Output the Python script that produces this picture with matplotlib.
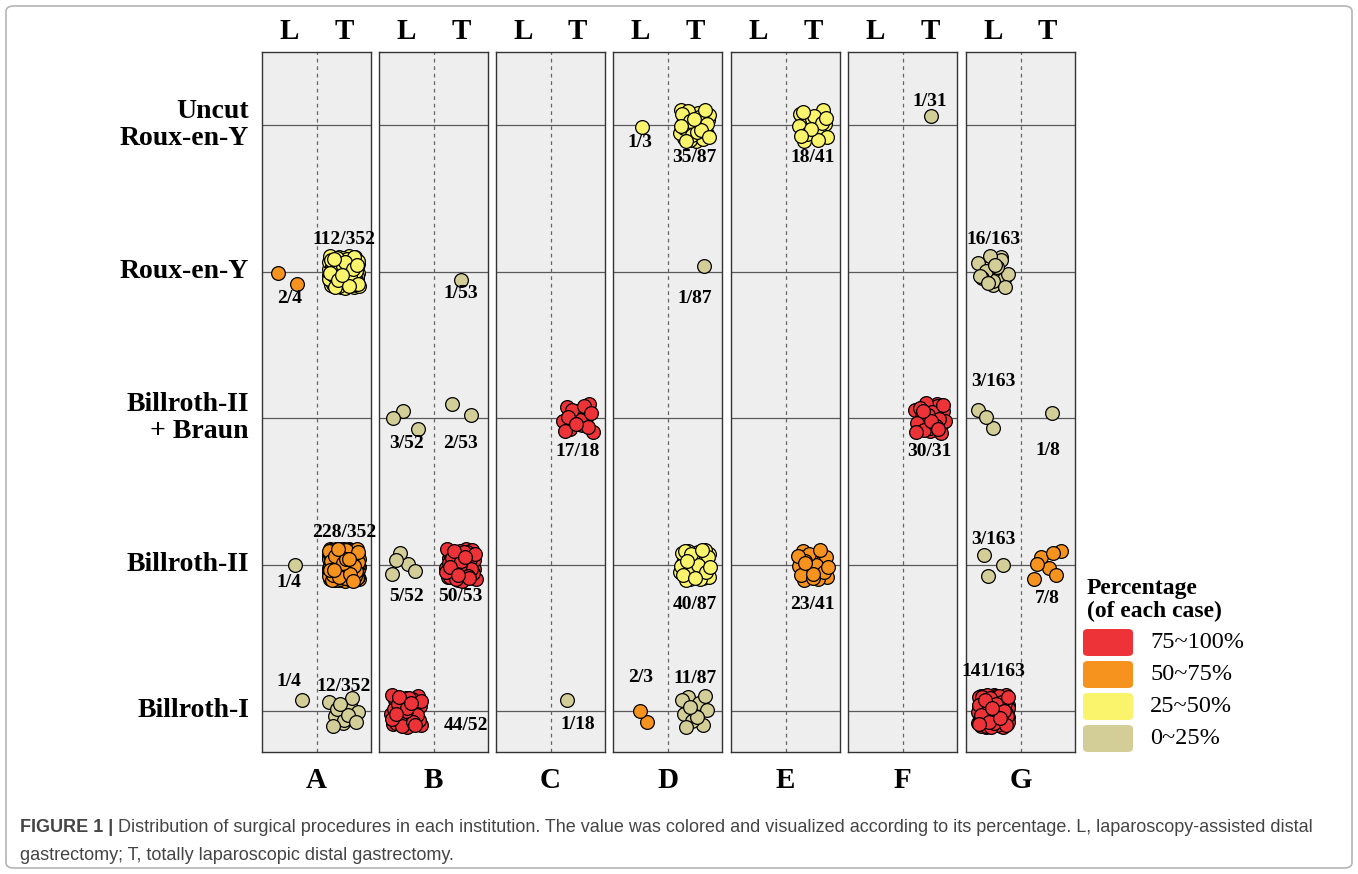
import numpy as np
import matplotlib.pyplot as plt
from matplotlib.patches import FancyBboxPatch
from matplotlib import transforms

plt.rcParams['font.family'] = ['Liberation Serif', 'DejaVu Serif']

# institutions and procedures
panels = ['A', 'B', 'C', 'D', 'E', 'F', 'G']
row_names = ['Billroth-I', 'Billroth-II', 'Billroth-II\n+ Braun', 'Roux-en-Y', 'Uncut\nRoux-en-Y']
total_L = [4, 52, 0, 3, 0, 0, 163]
total_T = [352, 53, 18, 87, 41, 31, 8]

# one entry per non-empty cell (row: 1 = Billroth-I ... 5 = Uncut Roux-en-Y)
cell_panel = ['A', 'A', 'A', 'A', 'A', 'A',
              'B', 'B', 'B', 'B', 'B', 'B',
              'C', 'C',
              'D', 'D', 'D', 'D', 'D', 'D',
              'E', 'E',
              'F', 'F',
              'G', 'G', 'G', 'G', 'G', 'G']
cell_side = ['L', 'T', 'L', 'T', 'L', 'T',
             'T', 'L', 'T', 'L', 'T', 'L',
             'T', 'T',
             'L', 'T', 'T', 'T', 'L', 'T',
             'T', 'T',
             'T', 'T',
             'L', 'L', 'T', 'L', 'T', 'L']
cell_row = [4, 4, 2, 2, 1, 1,
            4, 3, 3, 2, 2, 1,
            3, 1,
            5, 5, 4, 2, 1, 1,
            5, 2,
            5, 3,
            4, 3, 3, 2, 2, 1]
cell_count = [2, 112, 1, 228, 1, 12,
              1, 3, 2, 5, 50, 44,
              17, 1,
              1, 35, 1, 40, 2, 11,
              18, 23,
              1, 30,
              16, 3, 1, 3, 7, 141]
# colour band as drawn: 0 = 0~25%, 1 = 25~50%, 2 = 50~75%, 3 = 75~100%
cell_band = [2, 1, 0, 2, 0, 0,
             0, 0, 0, 0, 3, 3,
             3, 0,
             1, 1, 0, 1, 2, 0,
             1, 2,
             0, 3,
             0, 0, 0, 0, 2, 3]

band_colors = ['#D3CE98', '#FAF36C', '#F6921E', '#EE3338']
band_labels = ['0~25%', '25~50%', '50~75%', '75~100%']

# label placement (row units / column units)
label_dy = [-0.18, 0.22, -0.12, 0.22, 0.20, 0.17,
            -0.15, -0.17, -0.17, -0.22, -0.22, -0.10,
            -0.23, -0.09,
            -0.12, -0.22, -0.18, -0.27, 0.23, 0.22,
            -0.22, -0.27,
            0.16, -0.23,
            0.22, 0.25, -0.22, 0.17, -0.23, 0.27]
label_dx = [0] * len(cell_count)
label_dx[11] = 1.1


def halton(i, b):
    f, r = 1.0, 0.0
    while i > 0:
        f /= b
        r += f * (i % b)
        i //= b
    return r


W, H = 1358, 874
fig = plt.figure(figsize=(W / 100, H / 100), dpi=100)

# outer frame
fig.patches.append(FancyBboxPatch((6 / W, 6 / H), 1 - 12 / W, 1 - 12 / H,
                                  boxstyle='round,pad=0,rounding_size=0.006',
                                  transform=fig.transFigure, fill=False,
                                  edgecolor='#b5b5b5', linewidth=1.2))

lefts = [262, 379, 496, 613, 731, 848, 966]
axes = []
for k, p in enumerate(panels):
    ax = fig.add_axes([lefts[k] / W, 1 - 752 / H, 109 / W, 700 / H])
    ax.set_facecolor('#EEEEEE')
    ax.set_xlim(0.5, 2.5)
    ax.set_ylim(0.72, 5.5)
    for r in range(1, 6):
        ax.axhline(r, color='#5a5a5a', lw=0.9, zorder=1)
    ax.axvline(1.5, color='#666666', lw=0.9, ls=(0, (3, 3)), zorder=1)
    for s in ax.spines.values():
        s.set_color('#333333')
        s.set_linewidth(1.0)
    ax.set_yticks([])
    ax.set_xticks([1, 2])
    ax.set_xticklabels(['L', 'T'], fontsize=21, fontweight='bold')
    ax.tick_params(axis='x', top=True, labeltop=True, bottom=False,
                   labelbottom=False, length=0, pad=5)
    ax.text(0.5, -0.04, p, transform=ax.transAxes, ha='center', va='center',
            fontsize=21, fontweight='bold')
    axes.append(ax)

for c in range(len(cell_count)):
    k = panels.index(cell_panel[c])
    ax = axes[k]
    xc = 1 if cell_side[c] == 'L' else 2
    yc = cell_row[c]
    n = cell_count[c]
    idx = np.arange(n) + 3 + c * 5
    xs = xc + (np.array([halton(i, 2) for i in idx]) - 0.5) * 0.56
    ys = yc + (np.array([halton(i, 3) for i in idx]) - 0.5) * 0.22
    ax.scatter(xs, ys, s=98, c=band_colors[cell_band[c]], edgecolors='black',
               linewidths=0.9, zorder=3, clip_on=False)
    total = total_L[k] if cell_side[c] == 'L' else total_T[k]
    ax.text(xc + label_dx[c], yc + label_dy[c], f'{n}/{total}', ha='center',
            va='center', fontsize=14, fontweight='bold', zorder=4)

# row labels
tr = transforms.blended_transform_factory(fig.transFigure, axes[0].transData)
for r, name in enumerate(row_names):
    fig.text(249 / W, r + 1, name, transform=tr, ha='right', va='center',
             fontsize=20, fontweight='bold', linespacing=1.08)

# legend
fig.text(1087 / W, 1 - 600 / H, 'Percentage\n(of each case)', ha='left',
         va='center', fontsize=17, fontweight='bold', linespacing=1.1)
for j, b in enumerate([3, 2, 1, 0]):
    ytop = 629 + 32 * j
    fig.patches.append(FancyBboxPatch((1083 / W, 1 - (ytop + 27) / H), 50 / W, 27 / H,
                                      boxstyle='round,pad=0,rounding_size=0.004',
                                      transform=fig.transFigure,
                                      facecolor=band_colors[b], edgecolor='none'))
    fig.text(1150 / W, 1 - (ytop + 14) / H, band_labels[b], ha='left', va='center',
             fontsize=17.5)

# caption
cap_kw = dict(fontsize=13, color='#444444', family='Liberation Sans', va='center')
t1 = fig.text(20 / W, 1 - 828 / H, 'FIGURE 1 |', fontweight='bold', **cap_kw)
fig.canvas.draw()
bb = t1.get_window_extent()
fig.text((bb.x1 + 5) / W, 1 - 828 / H,
         'Distribution of surgical procedures in each institution. The value was colored '
         'and visualized according to its percentage. L, laparoscopy-assisted distal',
         **cap_kw)
fig.text(20 / W, 1 - 855 / H, 'gastrectomy; T, totally laparoscopic distal gastrectomy.',
         **cap_kw)

fig.savefig('out.png', dpi=100)
